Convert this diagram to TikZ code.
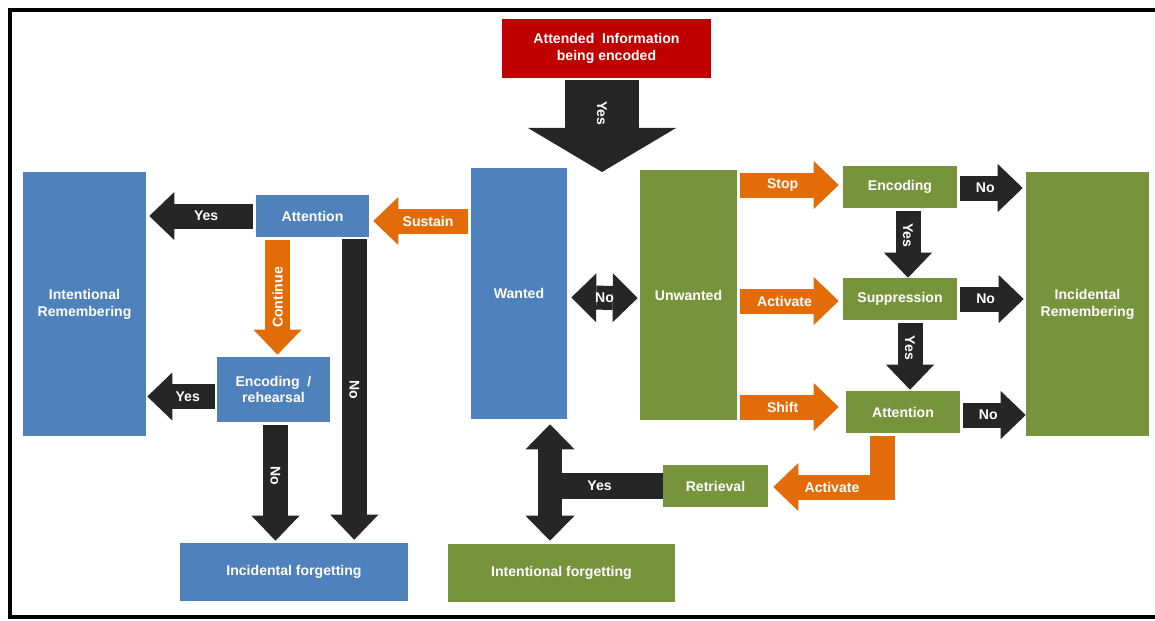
\documentclass[tikz,border=0pt]{standalone}
\usepackage{fontspec}
\setmainfont{Liberation Sans}
\usepackage{tikz}
\usetikzlibrary{arrows.meta,calc}

\definecolor{boxblue}{HTML}{4F81BD}
\definecolor{boxgreen}{HTML}{77933C}
\definecolor{boxred}{HTML}{C00000}
\definecolor{arrorange}{HTML}{E36C09}
\definecolor{arrblack}{HTML}{262626}

\begin{document}
\begin{tikzpicture}[
    x=0.025cm, y=-0.025cm,
    box/.style={rectangle, inner sep=0pt, text=white, font=\bfseries, align=center},
    bluebox/.style={box, fill=boxblue},
    greenbox/.style={box, fill=boxgreen},
    redbox/.style={box, fill=boxred},
    lbl/.style={text=white, font=\bfseries},
    tip/.style={-{Triangle[length=0.625cm, width=1.2cm, line width=0pt]}},
    karrow/.style={draw=arrblack, line width=0.625cm, tip},
    oarrow/.style={draw=arrorange, line width=0.625cm, tip},
    kline/.style={draw=arrblack, line width=0.65cm},
    kdouble/.style={draw=arrblack, line width=0.6cm,
        {Triangle[length=0.625cm, width=1.225cm, line width=0pt]}-{Triangle[length=0.625cm, width=1.225cm, line width=0pt]}},
    bigarrow/.style={draw=arrblack, line width=1.85cm,
        -{Triangle[length=1.1cm, width=3.7cm, line width=0pt]}}
]
\useasboundingbox (0,0) rectangle (1155,620);
\draw[line width=0.09cm] (10,10) rectangle (1180,617);

% Top
\node[redbox, minimum width=5.225cm, minimum height=1.475cm] (attended) at (606.5,48.5) {Attended\ \ Information\\being encoded};

% Middle column
\node[bluebox, minimum width=2.4cm, minimum height=6.275cm] (wanted) at (519,293.5) {Wanted};
\node[greenbox, minimum width=2.425cm, minimum height=6.25cm] (unwanted) at (688.5,295) {Unwanted};

% Left side (wanted)
\node[bluebox, minimum width=2.825cm, minimum height=1.05cm] (attL) at (312.5,216) {Attention};
\node[bluebox, minimum width=3.075cm, minimum height=6.6cm] (intrem) at (84.5,304) {Intentional\\Remembering};
\node[bluebox, minimum width=2.825cm, minimum height=1.625cm] (encreh) at (273.5,389.5) {Encoding\ \ /\\rehearsal};
\node[bluebox, minimum width=5.7cm, minimum height=1.45cm] (incforg) at (294,572) {Incidental forgetting};

% Right side (unwanted)
\node[greenbox, minimum width=2.85cm, minimum height=1.05cm] (enc) at (900,187) {Encoding};
\node[greenbox, minimum width=2.85cm, minimum height=1.05cm] (supp) at (900,299) {Suppression};
\node[greenbox, minimum width=2.85cm, minimum height=1.05cm] (attR) at (903,412) {Attention};
\node[greenbox, minimum width=3.075cm, minimum height=6.6cm] (increm) at (1087.5,304) {Incidental\\Remembering};
\node[greenbox, minimum width=2.625cm, minimum height=1.05cm] (retrieval) at (715.5,486) {Retrieval};
\node[greenbox, minimum width=5.675cm, minimum height=1.45cm] (intforg) at (561.5,573) {Intentional forgetting};

% Arrows
\coordinate (yestip) at (602,172);
\draw[bigarrow] ($(yestip |- attended.south)+(0,2)$) -- (yestip) node[pos=.36, rotate=-90, lbl] {Yes};
\draw[kdouble] ($(wanted.east)+(4,4)$) -- ($(unwanted.west)+(-2,3)$) node[midway, lbl] {No};

\draw[oarrow] ($(wanted.west |- attL.east)+(-3,5)$) -- ($(attL.east)+(4,5)$) node[pos=.42, lbl] {Sustain};
\draw[karrow] ($(attL.west)+(-3,0)$) -- ($(intrem.east |- attL.west)+(3,0)$) node[pos=.45, lbl] {Yes};
\draw[oarrow] ($(attL.south -| encreh.north)+(4,3)$) -- ($(encreh.north)+(4,-2)$) node[midway, rotate=90, lbl] {Continue};
\draw[karrow] ($(attL.south east)+(-15,2)$) -- ($(incforg.north -| attL.south east)+(-15,-3)$) node[midway, rotate=-90, lbl] {No};
\draw[karrow] ($(encreh.south)+(2,3)$) -- ($(incforg.north -| encreh.south)+(2,-2)$) node[pos=.44, rotate=-90, lbl] {No};
\draw[karrow] ($(encreh.west)+(-2,7)$) -- ($(intrem.east |- encreh.west)+(1,7)$) node[pos=.4, lbl] {Yes};

\draw[oarrow] ($(unwanted.east |- enc.west)+(3,-2)$) -- ($(enc.west)+(-4,-2)$) node[pos=.43, lbl] {Stop};
\draw[oarrow] ($(unwanted.east |- supp.west)+(3,2)$) -- ($(supp.west)+(-4,2)$) node[pos=.45, lbl] {Activate};
\draw[oarrow] ($(unwanted.east |- attR.west)+(3,-5)$) -- ($(attR.west)+(-7,-5)$) node[pos=.43, lbl] {Shift};

\draw[karrow] ($(enc.east)+(3,1)$) -- ($(increm.west |- enc.east)+(-3,1)$) node[pos=.4, lbl] {No};
\draw[karrow] ($(supp.east)+(3,0)$) -- ($(increm.west |- supp.east)+(-2,0)$) node[pos=.4, lbl] {No};
\draw[karrow] ($(attR.east)+(3,3)$) -- ($(increm.west |- attR.east)+(0,3)$) node[pos=.4, lbl] {No};

\draw[karrow] ($(enc.south)+(8,3)$) -- ($(supp.north -| enc.south)+(8,0)$) node[pos=.36, rotate=-90, lbl] {Yes};
\draw[karrow] ($(supp.south)+(10,3)$) -- ($(attR.north -| supp.south)+(10,-1)$) node[pos=.37, rotate=-90, lbl] {Yes};

\draw[oarrow] ($(attR.south)+(-21,3)$) |- ($(retrieval.east)+(5,1)$) node[pos=.73, lbl] {Activate};

\coordinate (tjunc) at (550,487);
\draw[kline] (retrieval.west) -- (retrieval.west -| tjunc) node[pos=.56, lbl] {Yes};
\draw[kdouble] ($(tjunc |- wanted.south)+(0,5)$) -- ($(tjunc |- intforg.north)+(0,-3)$);
\end{tikzpicture}
\end{document}
